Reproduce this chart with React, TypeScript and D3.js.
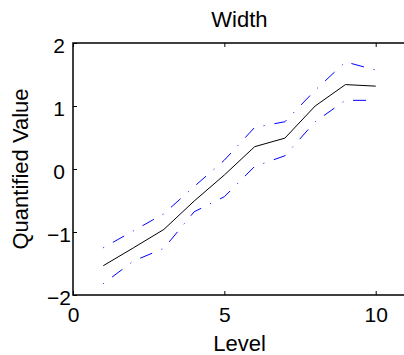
import React, { useEffect, useRef } from 'react';
import * as d3 from 'd3';

// levels on the x axis
const levels = [1, 2, 3, 4, 5, 6, 7, 8, 9, 10];
// mean quantified value per level
const meanValues = [-1.535, -1.25, -0.96, -0.51, -0.095, 0.354, 0.49, 1.0, 1.34, 1.315];
// upper and lower bounds (dash-dot)
const upperValues = [-1.25, -0.98, -0.71, -0.28, 0.14, 0.66, 0.75, 1.25, 1.7, 1.57];
const lowerValues = [-1.82, -1.46, -1.26, -0.68, -0.44, 0.04, 0.21, 0.75, 1.09, 1.09];

const xTicks = [0, 5, 10];
const yTicks = [-2, -1, 0, 1, 2];

const App = () => {
  const svgRef = useRef<SVGSVGElement>(null);

  useEffect(() => {
    const svg = d3.select(svgRef.current);
    svg.selectAll('*').remove();

    const width = 404;
    const height = 355;
    const left = 73, top = 43, bottom = 295;

    const font = 'Liberation Sans, Arial, Helvetica, sans-serif';

    const x = d3.scaleLinear().domain([0, 11]).range([left, left + 11 * 30.27]);
    const y = d3.scaleLinear().domain([-2, 2]).range([bottom, top]);

    const g = svg.append('g');

    // lines
    const line = d3.line<number>()
      .x((d, i) => x(levels[i]))
      .y(d => y(d));

    g.append('path')
      .datum(upperValues)
      .attr('fill', 'none')
      .attr('stroke', '#0000ff')
      .attr('stroke-width', 1)
      .attr('stroke-dasharray', '1,10,13,10')
      .attr('d', line);

    g.append('path')
      .datum(lowerValues)
      .attr('fill', 'none')
      .attr('stroke', '#0000ff')
      .attr('stroke-width', 1)
      .attr('stroke-dasharray', '1,10,13,10')
      .attr('d', line);

    g.append('path')
      .datum(meanValues)
      .attr('fill', 'none')
      .attr('stroke', '#000')
      .attr('stroke-width', 1)
      .attr('d', line);

    // x axis (bottom)
    const xAxis = g.append('g')
      .attr('transform', `translate(0,${bottom})`)
      .call(d3.axisBottom(x).tickValues(xTicks).tickSizeInner(-4).tickSizeOuter(0).tickPadding(12));
    xAxis.select('.domain').remove();
    xAxis.selectAll('line').attr('stroke', '#000');
    xAxis.selectAll('text')
      .attr('fill', '#000')
      .style('font-family', font)
      .style('font-size', '21px');

    // top ticks
    const xTop = g.append('g')
      .attr('transform', `translate(0,${top})`)
      .call(d3.axisTop(x).tickValues(xTicks).tickSizeInner(-4).tickSizeOuter(0).tickFormat(() => ''));
    xTop.select('.domain').remove();
    xTop.selectAll('line').attr('stroke', '#000');

    // y axis
    const yAxis = g.append('g')
      .attr('transform', `translate(${left},0)`)
      .call(d3.axisLeft(y).tickValues(yTicks).tickSizeInner(-4).tickSizeOuter(0).tickPadding(8)
        .tickFormat(d => (+d < 0 ? '\u2212' + Math.abs(+d) : String(d))));
    yAxis.select('.domain').remove();
    yAxis.selectAll('line').attr('stroke', '#000');
    yAxis.selectAll<SVGTextElement, number>('text')
      .attr('fill', '#000')
      .attr('x', d => (d < 0 ? -2 : -8))
      .attr('dy', '0.45em')
      .style('font-family', font)
      .style('font-size', '21px');

    // box
    g.append('path')
      .attr('d', `M${width + 5},${top}H${left}V${bottom}H${width + 5}`)
      .attr('fill', 'none')
      .attr('stroke', '#000')
      .attr('stroke-width', 1.5);

    // title and labels
    g.append('text')
      .attr('x', (x(0) + x(11)) / 2)
      .attr('y', 27)
      .attr('text-anchor', 'middle')
      .style('font-family', font)
      .style('font-size', '22px')
      .text('Width');

    g.append('text')
      .attr('x', (x(0) + x(11)) / 2)
      .attr('y', 351)
      .attr('text-anchor', 'middle')
      .style('font-family', font)
      .style('font-size', '22px')
      .text('Level');

    g.append('text')
      .attr('transform', `translate(28,${(top + bottom) / 2}) rotate(-90)`)
      .attr('text-anchor', 'middle')
      .style('font-family', font)
      .style('font-size', '22px')
      .text('Quantified Value');
  }, []);

  return (
    <svg
      ref={svgRef}
      width={404}
      height={355}
      style={{ position: 'absolute', left: 0, top: 0, background: '#fff' }}
    ></svg>
  );
};

export default App;
